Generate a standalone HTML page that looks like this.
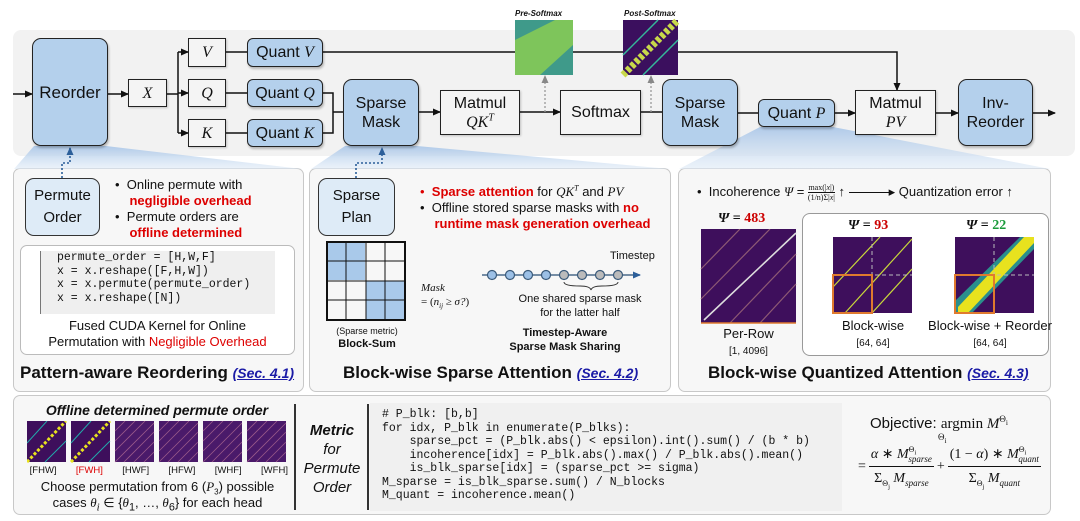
<!DOCTYPE html>
<html><head><meta charset="utf-8"><style>
body{margin:0;width:1080px;height:521px;background:#fff;position:relative;overflow:hidden;font-family:"Liberation Sans",sans-serif;color:#111}
sub,sup{line-height:0}
.a{position:absolute}
.b{position:absolute;box-sizing:border-box;border:1.5px solid #222;display:flex;align-items:center;justify-content:center;text-align:center;font-size:16px;line-height:19px}
.blue{background:#b4d0ec;border-radius:9px;box-shadow:1px 2px 2px rgba(0,0,0,.25)}
.lb{background:#deebf7;border-radius:9px;border-color:#333}
.w{background:#f4f4f4;box-shadow:1px 1px 2px rgba(0,0,0,.2)}
.m{font-family:"Liberation Serif",serif;font-style:italic}
.panel{position:absolute;box-sizing:border-box;border:1.5px solid #c8c8c8;border-radius:7px;background:#f7f7f7}
.r{color:#d00;font-weight:bold}
.t{font-size:13px;line-height:16px}
.code{font-family:"Liberation Mono",monospace;white-space:pre}
.sec{color:#1a1aa6;text-decoration:underline;font-style:italic;font-size:14px}
</style></head><body>
<div class="a" style="left:13px;top:30px;width:1062px;height:126px;background:#f2f2f2;border-radius:8px"></div>
<div class="panel" style="left:13px;top:168px;width:291px;height:224px"></div>
<div class="panel" style="left:309px;top:168px;width:362px;height:224px"></div>
<div class="panel" style="left:678px;top:168px;width:373px;height:224px"></div>
<div class="panel" style="left:13px;top:395px;width:1038px;height:120px"></div>

<svg class="a" style="left:0;top:0" width="1080" height="521">
<defs>
<linearGradient id="g" x1="0" y1="0" x2="0" y2="1"><stop offset="0" stop-color="#a9c6e8" stop-opacity=".9"/><stop offset="1" stop-color="#dfeaf6" stop-opacity=".6"/></linearGradient>
<marker id="ar" markerWidth="8" markerHeight="8" refX="7" refY="4" orient="auto" markerUnits="userSpaceOnUse"><path d="M0,0.5 L8,4 L0,7.5z" fill="#111"/></marker>
<marker id="ab" markerWidth="8" markerHeight="8" refX="7" refY="4" orient="auto" markerUnits="userSpaceOnUse"><path d="M0,0.5 L8,4 L0,7.5z" fill="#2c5f9a"/></marker>
<marker id="ag" markerWidth="8" markerHeight="8" refX="7" refY="4" orient="auto" markerUnits="userSpaceOnUse"><path d="M0,0.5 L8,4 L0,7.5z" fill="#888"/></marker>
</defs>
<polygon points="34,146 106,146 302,169 14,169" fill="url(#g)"/>
<polygon points="345,146 417,146 670,169 311,169" fill="url(#g)"/>
<polygon points="760,127 833,127 1050,169 679,169" fill="url(#g)"/>
<g stroke="#111" stroke-width="1.5" fill="none">
<line x1="13" y1="94" x2="32" y2="94" marker-end="url(#ar)"/>
<line x1="108" y1="94" x2="128" y2="94" marker-end="url(#ar)"/>
<polyline points="167,94 178,94"/>
<line x1="178" y1="52" x2="178" y2="133"/>
<line x1="178" y1="52" x2="188" y2="52" marker-end="url(#ar)"/>
<line x1="178" y1="93" x2="188" y2="93" marker-end="url(#ar)"/>
<line x1="178" y1="133" x2="188" y2="133" marker-end="url(#ar)"/>
<line x1="226" y1="52" x2="247" y2="52"/><line x1="226" y1="93" x2="247" y2="93"/><line x1="226" y1="133" x2="247" y2="133"/>
<polyline points="323,93 333,93 333,133 323,133"/><line x1="333" y1="112" x2="343" y2="112"/>
<polyline points="323,52 897,52 897,90" marker-end="url(#ar)"/>
<line x1="419" y1="112" x2="440" y2="112" marker-end="url(#ar)"/>
<line x1="520" y1="112" x2="560" y2="112" marker-end="url(#ar)"/>
<line x1="641" y1="112" x2="662" y2="112"/>
<line x1="738" y1="113" x2="758" y2="113"/>
<line x1="835" y1="113" x2="855" y2="113" marker-end="url(#ar)"/>
<line x1="936" y1="113" x2="958" y2="113" marker-end="url(#ar)"/>
<line x1="1033" y1="113" x2="1055" y2="113" marker-end="url(#ar)"/>
</g>
<g stroke="#999" stroke-width="1.3" stroke-dasharray="2,2" fill="none">
<line x1="545" y1="112" x2="545" y2="76" marker-end="url(#ag)"/>
<line x1="651" y1="112" x2="651" y2="76" marker-end="url(#ag)"/>
</g>
<g stroke="#2c5f9a" stroke-width="1.6" stroke-dasharray="2,2" fill="none">
<polyline points="62,178 62,163 70,163 70,148" marker-end="url(#ab)"/>
<polyline points="356,178 356,163 382,163 382,148" marker-end="url(#ab)"/>
</g>
<rect x="515" y="20" width="58" height="55" fill="#3f9a8a"/>
<polygon points="515,75 515,40 555,20 573,20 573,45 540,75" fill="#8fcf4f" opacity=".8"/>
<rect x="623" y="20" width="55" height="55" fill="#3b0f5e"/>
<line x1="623" y1="75" x2="678" y2="20" stroke="#c8d84a" stroke-width="7" stroke-dasharray="4,2"/>
<line x1="623" y1="55" x2="658" y2="20" stroke="#35b79a" stroke-width="1.5"/>
<line x1="643" y1="75" x2="678" y2="40" stroke="#35b79a" stroke-width="1.5"/>
</svg>
<div class="a" style="left:515px;top:9px;font-size:8px;font-weight:bold;font-style:italic">Pre-Softmax</div>
<div class="a" style="left:624px;top:9px;font-size:8px;font-weight:bold;font-style:italic">Post-Softmax</div>

<div class="b blue" style="left:32px;top:38px;width:76px;height:108px;font-size:17px">Reorder</div>
<div class="b w m" style="left:128px;top:79px;width:39px;height:28px">X</div>
<div class="b w m" style="left:188px;top:38px;width:38px;height:29px">V</div>
<div class="b w m" style="left:188px;top:79px;width:38px;height:28px">Q</div>
<div class="b w m" style="left:188px;top:119px;width:38px;height:28px">K</div>
<div class="b blue" style="left:247px;top:38px;width:76px;height:29px;border-radius:6px"><div>Quant <span class="m">V</span></div></div>
<div class="b blue" style="left:247px;top:79px;width:76px;height:28px;border-radius:6px"><div>Quant <span class="m">Q</span></div></div>
<div class="b blue" style="left:247px;top:119px;width:76px;height:28px;border-radius:6px"><div>Quant <span class="m">K</span></div></div>
<div class="b blue" style="left:343px;top:79px;width:76px;height:67px"><div>Sparse<br>Mask</div></div>
<div class="b w" style="left:440px;top:90px;width:80px;height:45px"><div>Matmul<br><span class="m">QK<sup style="font-size:10px">T</sup></span></div></div>
<div class="b w" style="left:560px;top:90px;width:81px;height:45px">Softmax</div>
<div class="b blue" style="left:662px;top:79px;width:76px;height:67px"><div>Sparse<br>Mask</div></div>
<div class="b blue" style="left:758px;top:99px;width:77px;height:28px;border-radius:6px"><div>Quant <span class="m">P</span></div></div>
<div class="b w" style="left:855px;top:90px;width:81px;height:45px"><div>Matmul<br><span class="m">PV</span></div></div>
<div class="b blue" style="left:958px;top:79px;width:75px;height:67px"><div>Inv-<br>Reorder</div></div>

<!-- panel 1 -->
<div class="b lb" style="left:25px;top:178px;width:75px;height:58px;font-size:15px;line-height:22px"><div>Permute<br>Order</div></div>
<div class="a t" style="left:115px;top:177px">•&nbsp;&nbsp;Online permute with<br>&nbsp;&nbsp;&nbsp;&nbsp;<span class="r">negligible overhead</span><br>•&nbsp;&nbsp;Permute orders are<br>&nbsp;&nbsp;&nbsp;&nbsp;<span class="r">offline determined</span></div>
<div class="a" style="left:20px;top:245px;width:275px;height:110px;background:#fff;border:1.3px solid #bbb;border-radius:7px;box-sizing:border-box"></div>
<div class="a code" style="left:40px;top:251px;width:235px;height:63px;background:#efefef;border-left:1.5px solid #777;font-size:11.5px;line-height:13.5px;padding-left:16px;box-sizing:border-box">permute_order = [H,W,F]
x = x.reshape([F,H,W])
x = x.permute(permute_order)
x = x.reshape([N])</div>
<div class="a t" style="left:20px;top:318px;width:275px;text-align:center">Fused CUDA Kernel for Online<br>Permutation with <span style="color:#d00">Negligible Overhead</span></div>
<div class="a" style="left:20px;top:363px;font-size:17px;font-weight:bold">Pattern-aware Reordering <span class="sec">(Sec. 4.1)</span></div>

<!-- panel 2 -->
<div class="b lb" style="left:318px;top:178px;width:77px;height:58px;font-size:15px;line-height:22px"><div>Sparse<br>Plan</div></div>
<div class="a t" style="left:420px;top:184px"><span style="color:#d00">•</span>&nbsp;&nbsp;<span class="r">Sparse attention</span> for <span class="m">QK<sup style="font-size:8px">T</sup></span> and <span class="m">PV</span><br>•&nbsp;&nbsp;Offline stored sparse masks with <span class="r">no</span><br>&nbsp;&nbsp;&nbsp;&nbsp;<span class="r">runtime mask generation overhead</span></div>
<svg class="a" style="left:326px;top:241px" width="82" height="82">
<rect x="1" y="1" width="19" height="19" fill="#a9c9ea"/><rect x="20" y="1" width="19" height="19" fill="#a9c9ea"/>
<rect x="1" y="20" width="19" height="19" fill="#a9c9ea"/><rect x="20" y="20" width="19" height="19" fill="#a9c9ea"/>
<rect x="40" y="40" width="19" height="19" fill="#a9c9ea"/><rect x="59" y="40" width="20" height="19" fill="#a9c9ea"/>
<rect x="40" y="59" width="19" height="20" fill="#a9c9ea"/><rect x="59" y="59" width="20" height="20" fill="#a9c9ea"/>
<g stroke="#111" stroke-width="1"><line x1="20" y1="1" x2="20" y2="79"/><line x1="40" y1="1" x2="40" y2="79"/><line x1="59" y1="1" x2="59" y2="79"/><line x1="1" y1="20" x2="79" y2="20"/><line x1="1" y1="40" x2="79" y2="40"/><line x1="1" y1="59" x2="79" y2="59"/></g>
<rect x="1" y="1" width="78" height="78" fill="none" stroke="#111" stroke-width="2"/>
</svg>
<div class="a" style="left:326px;top:326px;width:82px;text-align:center;font-size:9px">(Sparse metric)</div>
<div class="a" style="left:326px;top:338px;width:82px;text-align:center;font-size:11px;font-weight:bold">Block-Sum</div>
<div class="a m" style="left:421px;top:281px;font-size:11px;line-height:14px">Mask<br><span style="font-style:normal">= (</span>n<sub style="font-size:7px">ij</sub> ≥ σ?<span style="font-style:normal">)</span></div>
<svg class="a" style="left:480px;top:262px" width="190" height="30">
<line x1="2" y1="13" x2="160" y2="13" stroke="#4a6a8a" stroke-width="1.5" marker-end="url(#ab)"/>
<g stroke="#3a5a7a" stroke-width="1.2"><circle cx="12" cy="13" r="4.5" fill="#9cc0e6"/><circle cx="30" cy="13" r="4.5" fill="#9cc0e6"/><circle cx="48" cy="13" r="4.5" fill="#9cc0e6"/><circle cx="66" cy="13" r="4.5" fill="#9cc0e6"/><circle cx="84" cy="13" r="4.5" fill="#bbb"/><circle cx="102" cy="13" r="4.5" fill="#bbb"/><circle cx="120" cy="13" r="4.5" fill="#bbb"/><circle cx="138" cy="13" r="4.5" fill="#bbb"/></g>
<path d="M84,20 Q84,24 100,24 Q110,24 111,28 Q112,24 122,24 Q138,24 138,20" fill="none" stroke="#333" stroke-width="1"/>
</svg>
<div class="a" style="left:610px;top:250px;font-size:11px">Timestep</div>
<div class="a" style="left:505px;top:292px;width:150px;text-align:center;font-size:11px;line-height:14px">One shared sparse mask<br>for the latter half</div>
<div class="a" style="left:495px;top:326px;width:140px;text-align:center;font-size:11px;line-height:14px;font-weight:bold">Timestep-Aware<br>Sparse Mask Sharing</div>
<div class="a" style="left:343px;top:363px;font-size:17px;font-weight:bold">Block-wise Sparse Attention <span class="sec">(Sec. 4.2)</span></div>

<!-- panel 3 -->
<div class="a t" style="left:697px;top:183px">•&nbsp;&nbsp;Incoherence <span class="m">Ψ</span> = <span style="display:inline-block;vertical-align:middle;text-align:center;font-size:8px;line-height:9px;font-family:'Liberation Serif',serif"><span style="border-bottom:1px solid #111;display:block">max(|<i>x</i>|)</span>(1/n)Σ|<i>x</i>|</span> ↑ <span style="display:inline-block;width:40px;border-top:1.5px solid #111;vertical-align:middle"></span>▸ Quantization error ↑</div>
<div class="a" style="left:718px;top:211px;font-size:14px;font-weight:bold;font-family:'Liberation Serif',serif"><i>Ψ</i> = <span style="color:#c00">483</span></div>
<div class="a" style="left:802px;top:213px;width:247px;height:143px;background:#fff;border:1.3px solid #999;border-radius:8px;box-sizing:border-box"></div>
<svg class="a" style="left:700px;top:229px" width="340" height="95">
<rect x="1" y="0" width="95" height="94" fill="#3e0f5c"/>
<g stroke="#8e5a74" stroke-width="1.2"><line x1="1" y1="40" x2="40" y2="0"/><line x1="1" y1="70" x2="70" y2="0"/><line x1="30" y1="94" x2="96" y2="25"/><line x1="60" y1="94" x2="96" y2="55"/></g>
<line x1="4" y1="91" x2="96" y2="4" stroke="#ddd" stroke-width="1.6"/>
<line x1="1" y1="94" x2="96" y2="94" stroke="#e07a2e" stroke-width="1.5"/>
<rect x="133" y="8" width="79" height="76" fill="#3e0f5c"/>
<g stroke="#c9d83a" stroke-width="1.2"><line x1="145" y1="84" x2="212" y2="10"/><line x1="172" y1="84" x2="212" y2="40"/><line x1="133" y1="58" x2="180" y2="8"/></g>
<line x1="172" y1="8" x2="172" y2="84" stroke="#bbb" stroke-dasharray="4,3"/><line x1="133" y1="46" x2="212" y2="46" stroke="#bbb" stroke-dasharray="4,3"/>
<rect x="133" y="46" width="39" height="38" fill="none" stroke="#e07a2e" stroke-width="2"/>
<rect x="255" y="8" width="79" height="76" fill="#3e0f5c"/>
<polygon points="255,84 255,72 320,8 334,8 334,20 272,84" fill="#2a8f8c"/>
<polygon points="258,84 258,78 324,8 334,8 334,14 268,84" fill="#e8e21e"/>
<line x1="294" y1="8" x2="294" y2="84" stroke="#bbb" stroke-dasharray="4,3"/><line x1="255" y1="46" x2="334" y2="46" stroke="#bbb" stroke-dasharray="4,3"/>
<rect x="255" y="46" width="39" height="38" fill="none" stroke="#e07a2e" stroke-width="2"/>
</svg>
<div class="a" style="left:848px;top:218px;font-size:14px;font-weight:bold;font-family:'Liberation Serif',serif"><i>Ψ</i> = <span style="color:#c00">93</span></div>
<div class="a" style="left:966px;top:218px;font-size:14px;font-weight:bold;font-family:'Liberation Serif',serif"><i>Ψ</i> = <span style="color:#1a9a3a">22</span></div>
<div class="a" style="left:700px;top:326px;width:97px;text-align:center;font-size:13px;line-height:16px">Per-Row<br><span style="font-size:10px">[1, 4096]</span></div>
<div class="a" style="left:825px;top:318px;width:96px;text-align:center;font-size:13px;line-height:16px">Block-wise<br><span style="font-size:10px">[64, 64]</span></div>
<div class="a" style="left:925px;top:318px;width:130px;text-align:center;font-size:13px;line-height:16px">Block-wise + Reorder<br><span style="font-size:10px">[64, 64]</span></div>
<div class="a" style="left:708px;top:363px;font-size:17px;font-weight:bold">Block-wise Quantized Attention <span class="sec">(Sec. 4.3)</span></div>

<!-- panel 4 -->
<div class="a" style="left:22px;top:402px;width:270px;text-align:center;font-size:14px;font-weight:bold;font-style:italic">Offline determined permute order</div>
<svg class="a" style="left:27px;top:421px" width="262" height="42">
<rect x="0" y="0" width="39" height="41" fill="#3e0f5c"/><line x1="0" y1="41" x2="39" y2="0" stroke="#e8e21e" stroke-width="3" stroke-dasharray="3,2"/><line x1="0" y1="22" x2="20" y2="0" stroke="#2aa" stroke-width="1"/><line x1="18" y1="41" x2="39" y2="20" stroke="#2aa" stroke-width="1"/>
<rect x="44" y="0" width="39" height="41" fill="#3e0f5c"/><line x1="44" y1="41" x2="83" y2="0" stroke="#e8e21e" stroke-width="3" stroke-dasharray="3,2"/><line x1="44" y1="22" x2="64" y2="0" stroke="#2aa" stroke-width="1"/><line x1="62" y1="41" x2="83" y2="20" stroke="#2aa" stroke-width="1"/>
<g fill="#4a1a6a"><rect x="88" y="0" width="39" height="41"/><rect x="132" y="0" width="39" height="41"/><rect x="176" y="0" width="39" height="41"/><rect x="220" y="0" width="39" height="41"/></g>
<g stroke="#9a5a8a" stroke-width="0.8"><path d="M88,10L98,0M88,20L108,0M88,30L118,0M88,41L127,2M97,41L127,11M107,41L127,21M117,41L127,31"/><path d="M132,10L142,0M132,20L152,0M132,30L162,0M132,41L171,2M141,41L171,11M151,41L171,21M161,41L171,31"/><path d="M176,10L186,0M176,20L196,0M176,30L206,0M176,41L215,2M185,41L215,11M195,41L215,21M205,41L215,31"/><path d="M220,10L230,0M220,20L240,0M220,30L250,0M220,41L259,2M229,41L259,11M239,41L259,21M249,41L259,31"/></g>
</svg>
<div class="a" style="left:27px;top:465px;width:265px;font-size:9.5px;display:flex;justify-content:space-between;padding-right:4px;box-sizing:border-box"><span>&nbsp;[FHW]</span><span style="color:#d00">[FWH]</span><span>[HWF]</span><span>[HFW]</span><span>[WHF]</span><span>[WFH]</span></div>
<div class="a t" style="left:20px;top:479px;width:275px;text-align:center;font-size:13px;line-height:16px">Choose permutation from 6 (<i style="font-family:'Liberation Serif',serif">P</i><sub style="font-size:8px">3</sub>) possible<br>cases <i style="font-family:'Liberation Serif',serif">θ<sub>i</sub></i> ∈ {<i style="font-family:'Liberation Serif',serif">θ</i><sub>1</sub>, …, <i style="font-family:'Liberation Serif',serif">θ</i><sub>6</sub>} for each head</div>
<div class="a" style="left:294px;top:404px;width:1.5px;height:106px;background:#333"></div>
<div class="a" style="left:298px;top:421px;width:68px;text-align:center;font-size:15px;line-height:19px;font-style:italic"><b>Metric</b><br>for<br>Permute<br>Order</div>
<div class="a" style="left:367px;top:404px;width:1.5px;height:106px;background:#333"></div>
<div class="a code" style="left:370px;top:403px;width:472px;height:108px;background:#f0f0f0;font-size:11.5px;line-height:13.5px;padding:5px 0 0 12px;box-sizing:border-box"># P_blk: [b,b]
for idx, P_blk in enumerate(P_blks):
    sparse_pct = (P_blk.abs() &lt; epsilon).int().sum() / (b * b)
    incoherence[idx] = P_blk.abs().max() / P_blk.abs().mean()
    is_blk_sparse[idx] = (sparse_pct &gt;= sigma)
M_sparse = is_blk_sparse.sum() / N_blocks
M_quant = incoherence.mean()</div>
<div class="a" style="left:870px;top:415px;font-size:15px">Objective: <span style="font-family:'Liberation Serif',serif">argmin <i>M</i><sup style="font-size:9px">Θ<sub>i</sub></sup></span></div>
<div class="a" style="left:938px;top:432px;font-size:9px;font-family:'Liberation Serif',serif">Θ<sub>i</sub></div>
<div class="a" style="left:858px;top:446px;font-family:'Liberation Serif',serif;font-size:14px;line-height:18px;display:flex;align-items:center">
=<span style="display:inline-block;text-align:center;margin:0 3px"><span style="display:block;border-bottom:1.2px solid #111;padding:0 2px 2px"><i>α</i> ∗ <i>M</i><sup style="font-size:8px">Θ<sub>i</sub></sup><sub style="font-size:9px;margin-left:-8px"><i>sparse</i></sub></span><span style="display:block;padding-top:3px">Σ<sub style="font-size:8px">Θ<sub>j</sub></sub> <i>M</i><sub style="font-size:9px"><i>sparse</i></sub></span></span>+<span style="display:inline-block;text-align:center;margin:0 3px"><span style="display:block;border-bottom:1.2px solid #111;padding:0 2px 2px">(1 − <i>α</i>) ∗ <i>M</i><sup style="font-size:8px">Θ<sub>i</sub></sup><sub style="font-size:9px;margin-left:-8px"><i>quant</i></sub></span><span style="display:block;padding-top:3px">Σ<sub style="font-size:8px">Θ<sub>j</sub></sub> <i>M</i><sub style="font-size:9px"><i>quant</i></sub></span></span></div>
</body></html>
